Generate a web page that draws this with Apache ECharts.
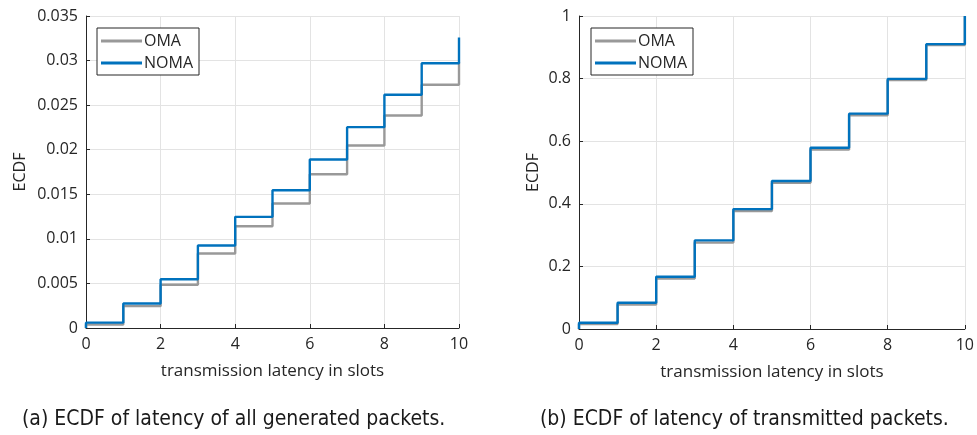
<!DOCTYPE html>
<html>
<head>
<meta charset="utf-8">
<script src="https://cdn.jsdelivr.net/npm/echarts@6/dist/echarts.min.js"></script>
<style>
  html, body { margin: 0; padding: 0; background: #fff; }
  #chart { width: 977px; height: 435px; }
</style>
</head>
<body>
<div id="chart"></div>
<script>
// Latency in slots (x positions of the ECDF steps)
const latencySlots = [0, 1, 2, 3, 4, 5, 6, 7, 8, 9, 10];

// (a) ECDF over all generated packets
const omaAll  = [0.0004, 0.00245, 0.00485, 0.00836, 0.01142, 0.01397, 0.01725, 0.02047, 0.02384, 0.02728, 0.0298];
const nomaAll = [0.0006, 0.00275, 0.00547, 0.00925, 0.01247, 0.01546, 0.0189, 0.02253, 0.02616, 0.0297, 0.0326];

// (b) ECDF over transmitted packets
const omaTx  = [0.016, 0.078, 0.161, 0.276, 0.377, 0.467, 0.573, 0.683, 0.795, 0.907, 1.0];
const nomaTx = [0.020, 0.084, 0.167, 0.283, 0.383, 0.473, 0.579, 0.688, 0.799, 0.910, 1.0];

// Tick values
const xTicks = [0, 2, 4, 6, 8, 10];
const yTicksA = [0, 0.005, 0.01, 0.015, 0.02, 0.025, 0.03, 0.035];
const yTicksB = [0, 0.2, 0.4, 0.6, 0.8, 1];

const captionA = '(a) ECDF of latency of all generated packets.';
const captionB = '(b) ECDF of latency of transmitted packets.';

const GRAY = '#999999';
const BLUE = '#0072BD';
const TEXT = '#262626';
const FONT = 'Open Sans';

// ECDF step path: starts at zero on the first slot
function stepData(values) {
  const pts = [[latencySlots[0], 0]];
  values.forEach((v, i) => pts.push([latencySlots[i], v]));
  return pts;
}

function xAxis(gridIndex) {
  return {
    type: 'value', gridIndex, min: 0, max: 10, interval: 2,
    name: 'transmission latency in slots', nameLocation: 'middle', nameGap: 35,
    nameTextStyle: { color: TEXT, fontSize: 17, fontFamily: FONT },
    axisLine: { show: true, lineStyle: { color: '#262626', width: 1 } },
    axisTick: { show: true, inside: true, length: 4, lineStyle: { color: '#262626' } },
    axisLabel: {
      color: TEXT, fontSize: 16, fontFamily: FONT, margin: 8,
      formatter: v => xTicks.includes(v) ? String(v) : ''
    },
    splitLine: { show: true, lineStyle: { color: '#e3e3e3', width: 1 } }
  };
}

function yAxis(gridIndex, max, interval, ticks) {
  return {
    type: 'value', gridIndex, min: 0, max, interval,
    name: 'ECDF', nameLocation: 'middle', nameGap: gridIndex === 0 ? 58 : 38,
    nameTextStyle: { color: TEXT, fontSize: 16, fontFamily: FONT },
    axisLine: { show: true, lineStyle: { color: '#262626', width: 1 } },
    axisTick: { show: true, inside: true, length: 4, lineStyle: { color: '#262626' } },
    axisLabel: {
      color: TEXT, fontSize: 16, fontFamily: FONT, margin: 8,
      formatter: v => {
        const t = ticks.find(k => Math.abs(k - v) < 1e-9);
        return t === undefined ? '' : String(+t.toFixed(3));
      }
    },
    splitLine: { show: true, lineStyle: { color: '#e3e3e3', width: 1 } }
  };
}

function series(name, data, color, idx, z) {
  return {
    name, type: 'line', xAxisIndex: idx, yAxisIndex: idx,
    data: stepData(data), step: 'end', symbol: 'none', z,
    lineStyle: { color, width: 2.4 }, itemStyle: { color },
    animation: false
  };
}

function legend(left) {
  return {
    data: ['OMA', 'NOMA'], orient: 'vertical', left, top: 28,
    itemWidth: 41, itemHeight: 3, itemGap: 6,
    icon: 'rect',
    padding: [5, 6, 4, 4],
    borderColor: '#262626', borderWidth: 1, backgroundColor: '#fff',
    textStyle: { color: TEXT, fontSize: 16, fontFamily: FONT, padding: [0, 0, 0, -3] },
    selectedMode: false
  };
}

const chart = echarts.init(document.getElementById('chart'), null, { renderer: 'canvas' });
chart.setOption({
  animation: false,
  backgroundColor: '#fff',
  grid: [
    { left: 86, right: 518, top: 16, bottom: 107 },
    { left: 579, right: 9, top: 16, bottom: 106 }
  ],
  xAxis: [xAxis(0), xAxis(1)],
  yAxis: [yAxis(0, 0.035, 0.005, yTicksA), yAxis(1, 1, 0.2, yTicksB)],
  legend: [legend(97), legend(591)],
  series: [
    series('OMA', omaAll, GRAY, 0, 2),
    series('NOMA', nomaAll, BLUE, 0, 3),
    series('OMA', omaTx, GRAY, 1, 2),
    series('NOMA', nomaTx, BLUE, 1, 3)
  ],
  graphic: [
    { type: 'text', left: 22, top: 409,
      style: { text: captionA, fill: '#1a1a1a', font: '21px "DejaVu Sans Condensed", sans-serif' } },
    { type: 'text', left: 540, top: 409,
      style: { text: captionB, fill: '#1a1a1a', font: '21px "DejaVu Sans Condensed", sans-serif' } }
  ]
});
</script>
</body>
</html>
